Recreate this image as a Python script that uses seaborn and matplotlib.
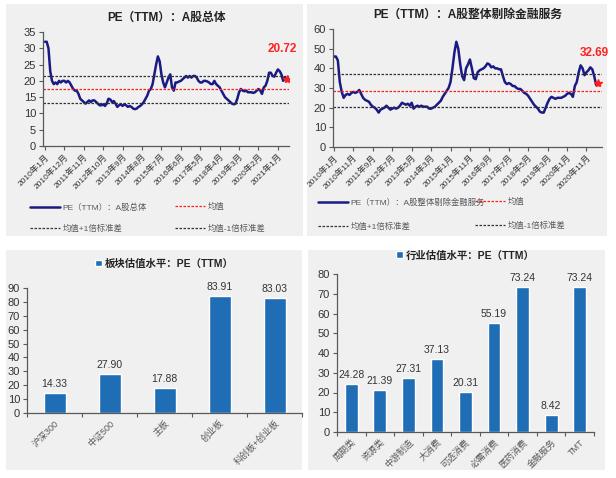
import matplotlib
matplotlib.use('Agg')
import matplotlib.pyplot as plt
from matplotlib.lines import Line2D
from matplotlib.patches import Rectangle
import numpy as np
import pandas as pd
import seaborn as sns

# ---- data: A股总体 PE(TTM), monthly from 2010-01
pe_all = [32, 32, 30, 23, 20, 19, 19.5, 19, 20, 19.5, 20, 20, 19.5, 20, 19.5, 18.5, 17.5, 17, 17, 16,
          14.5, 14, 13.5, 13, 13.5, 14, 13.5, 14, 14, 13.5, 13, 12.5, 12.5, 12.8, 12.3, 13, 14.5, 14.3, 13.5, 13.8,
          13, 12, 12.5, 12.8, 12.3, 12.8, 12.5, 12, 12.3, 12, 11.5, 11.3, 11.5, 12, 12.3, 12.8, 13.5, 14.5, 15.5, 17,
          17.5, 19, 22, 25, 27.5, 26, 22, 19.5, 18, 19.5, 21, 22, 18, 17, 19.5, 19.5, 19.8, 20, 20.5, 21,
          21.5, 21, 21.5, 21, 21.5, 21.5, 21, 20, 19.5, 19.5, 20, 20, 19.8, 19.5, 19, 19, 20, 19, 18.5, 18,
          17, 16, 15, 14.5, 14, 13.5, 13, 12.8, 13, 14.5, 16.5, 17.5, 17, 16.8, 17, 16.5, 16.5, 16.5, 16.3, 16.5,
          17, 17.5, 17, 16, 18, 18.5, 20, 22.5, 22.5, 21.5, 21.3, 22.5, 23.5, 23, 22, 20, 21, 20.72]
all_mean, all_up, all_dn = 17.4, 21.4, 13.1
all_ticks = [0, 11, 22, 33, 44, 55, 66, 77, 88, 99, 110, 121, 132]
all_ticklabels = ['2010年1月', '2010年12月', '2011年11月', '2012年10月', '2013年9月', '2014年8月',
                  '2015年7月', '2016年6月', '2017年5月', '2018年4月', '2019年3月', '2020年2月', '2021年1月']

# ---- data: A股整体剔除金融服务 PE(TTM), monthly from 2010-01
pe_nonfin = [46, 46, 44, 33, 28, 25, 26.5, 27, 26.5, 27.5, 28, 27.5, 28, 29, 27, 25, 24, 23.5, 23, 21.5,
             20.5, 20, 19, 17.5, 19, 19.5, 20, 21, 20, 19, 19.5, 20, 19.5, 20, 21, 22.5, 22, 21.5, 22, 21,
             22.5, 19.5, 20.5, 21, 20.5, 21, 20.5, 20.5, 20.5, 19.5, 19.5, 20, 20.5, 21.5, 22.5, 23.5, 25.5, 27, 28.5, 30,
             33, 40, 48, 53.5, 50, 42, 36, 34, 40, 42, 44.5, 40, 35, 34.5, 38, 39, 39.5, 40, 41, 42.5,
             42, 40.5, 41, 40, 40, 39.5, 39.5, 36, 33, 32, 32.5, 32, 31, 31, 30, 29.5, 29.5, 28.5, 27.5, 27,
             26, 24.5, 23, 21.5, 20.5, 19.5, 18, 17.5, 17.5, 20, 22.5, 24.5, 25.5, 25, 24.5, 25, 25, 25, 25.5, 26,
             27, 27.5, 27, 25.5, 31, 33, 38, 41.5, 40, 36.5, 38, 39, 40.5, 39.5, 36, 31.5, 32.69]
nf_mean, nf_up, nf_dn = 28.6, 37.2, 20.2
nf_ticks = [0, 10, 20, 30, 40, 50, 60, 70, 80, 90, 100, 110, 120, 130]
nf_ticklabels = ['2010年1月', '2010年11月', '2011年9月', '2012年7月', '2013年5月', '2014年3月', '2015年1月',
                 '2015年11月', '2016年9月', '2017年7月', '2018年5月', '2019年3月', '2020年1月', '2020年11月']

# ---- data: 板块 / 行业 PE(TTM)
board_names = ['沪深300', '中证500', '主板', '创业板', '科创板+创业板']
board_pe = [14.33, 27.90, 17.88, 83.91, 83.03]
ind_names = ['周期类', '资源类', '中游制造', '大消费', '可选消费', '必需消费', '医药消费', '金融服务', 'TMT']
ind_pe = [24.28, 21.39, 27.31, 37.13, 20.31, 55.19, 73.24, 8.42, 73.24]

NAVY = '#1a1a84'
BLUE = '#1f6db4'
GRAY = '#595959'

sns.set_theme(style='white')
plt.rcParams['font.family'] = ['Liberation Sans', 'Noto Sans CJK SC', 'DejaVu Sans']
plt.rcParams['axes.unicode_minus'] = False

W, H = 616, 478
fig = plt.figure(figsize=(W / 100, H / 100), dpi=100)


def px_axes(x0, y0, x1, y1):
    return fig.add_axes([x0 / W, 1 - y1 / H, (x1 - x0) / W, (y1 - y0) / H])


def panel(x0, y0, x1, y1):
    fig.patches.append(Rectangle((x0 / W, 1 - y1 / H), (x1 - x0) / W, (y1 - y0) / H,
                                 transform=fig.transFigure, facecolor='#f0f0f0',
                                 edgecolor='none', zorder=-10))


def style_axes(ax):
    ax.set_facecolor('none')
    for s in ['top', 'right']:
        ax.spines[s].set_visible(False)
    for s in ['left', 'bottom']:
        ax.spines[s].set_color(GRAY)
        ax.spines[s].set_linewidth(0.9)
    ax.tick_params(axis='both', which='both', direction='out', color=GRAY, length=3,
                   width=0.8, labelcolor='#333333', left=True, bottom=True, pad=2)
    ax.tick_params(axis='y', labelsize=8)
    ax.set_xlabel('')
    ax.set_ylabel('')


def line_panel(ax, values, mean, up, dn, ticks, ticklabels, ylim, yticks, title, last_label, xlim):
    df = pd.DataFrame({'m': np.arange(len(values)), 'pe': values})
    sns.lineplot(data=df, x='m', y='pe', ax=ax, color=NAVY, linewidth=1.8)
    ax.axhline(mean, color='#ff2020', linestyle=(0, (2, 1.2)), linewidth=0.9)
    ax.axhline(up, color='#333333', linestyle=(0, (2, 1.2)), linewidth=0.9)
    ax.axhline(dn, color='#333333', linestyle=(0, (2, 1.2)), linewidth=0.9)
    last = len(values) - 1
    ax.plot([last], [values[-1]], marker='*', color='#ff2020', markersize=6, zorder=5)
    ax.annotate(last_label, (last, values[-1]), xytext=(-3, 17), textcoords='offset points',
                ha='center', va='bottom', color='#ff2020', fontsize=8.5, fontweight='bold')
    ax.set_xlim(*xlim)
    ax.set_ylim(*ylim)
    ax.set_yticks(yticks)
    ax.set_xticks(ticks)
    ax.set_xticklabels(ticklabels, rotation=45, ha='right', rotation_mode='anchor',
                       fontsize=6, color=GRAY)
    style_axes(ax)
    ax.tick_params(axis='y', labelsize=8)
    ax.set_title(title, fontsize=8.5, fontweight='bold', color='#222222', pad=8)


def line_legend(main_label, x_left, x_right, y_top, spacing):
    h_main = Line2D([], [], color=NAVY, linewidth=1.8)
    h_mean = Line2D([], [], color='#ff2020', linestyle=(0, (2, 1.2)), linewidth=0.9)
    h_std = Line2D([], [], color='#333333', linestyle=(0, (2, 1.2)), linewidth=0.9)
    kw = dict(loc='upper left', frameon=False, fontsize=6, handlelength=3.6,
              handletextpad=0.3, labelspacing=spacing, labelcolor=GRAY,
              bbox_transform=fig.transFigure, borderaxespad=0, borderpad=0)
    fig.legend([h_main, h_std], [main_label, '均值+1倍标准差'],
               bbox_to_anchor=(x_left / W, 1 - y_top / H), **kw)
    fig.legend([h_mean, h_std], ['均值', '均值-1倍标准差'],
               bbox_to_anchor=(x_right / W, 1 - y_top / H), **kw)


def bar_panel(ax, names, values, width, ylim, yticks, label, title_y):
    df = pd.DataFrame({'name': names, 'pe': values})
    sns.barplot(data=df, x='name', y='pe', color=BLUE, saturation=1, width=width,
                label=label, ax=ax)
    ax.bar_label(ax.containers[0], fmt='%.2f', padding=3, fontsize=7.5, color='#333333')
    ax.set_ylim(*ylim)
    ax.set_yticks(yticks)
    ax.set_xlim(-0.5, len(names) - 0.5)
    style_axes(ax)
    ax.set_xticks(np.arange(len(names)))
    ax.set_xticklabels(names, rotation=45, ha='right', rotation_mode='anchor',
                       fontsize=6.5, color=GRAY)
    ax.tick_params(axis='x', which='major', length=0, pad=4)
    ax.set_xticks(np.arange(len(names) + 1) - 0.5, minor=True)
    ax.tick_params(axis='x', which='minor', length=3, color=GRAY)
    ax.legend(loc='lower center', bbox_to_anchor=(0.5, title_y), frameon=False,
              handlelength=0.6, handleheight=0.6, handletextpad=0.3, borderaxespad=0,
              prop={'size': 7.5, 'weight': 'bold'}, labelcolor='#222222')


# background panels
panel(6, 4, 303, 236)
panel(307, 4, 607, 236)
panel(6, 250, 302, 470)
panel(308, 250, 605, 470)

ax1 = px_axes(43, 32, 289, 146)
line_panel(ax1, pe_all, all_mean, all_up, all_dn, all_ticks, all_ticklabels,
           (0, 35), np.arange(0, 36, 5), 'PE（TTM）：A股总体', '20.72', (-1.1, 138.3))
line_legend('PE（TTM）：A股总体', 30, 175, 203, 1.6)

ax2 = px_axes(333, 29, 602, 147)
line_panel(ax2, pe_nonfin, nf_mean, nf_up, nf_dn, nf_ticks, nf_ticklabels,
           (0, 60), np.arange(0, 61, 10), 'PE（TTM）：A股整体剔除金融服务', '32.69', (-0.5, 138))
line_legend('PE（TTM）：A股整体剔除金融服务', 318, 475, 198, 1.9)

ax3 = px_axes(27, 288, 302, 413)
bar_panel(ax3, board_names, board_pe, 0.4, (0, 90), np.arange(0, 91, 10),
          '板块估值水平：PE（TTM）', 1.12)

ax4 = px_axes(337, 274, 594, 432)
bar_panel(ax4, ind_names, ind_pe, 0.45, (0, 80), np.arange(0, 81, 10),
          '行业估值水平：PE（TTM）', 1.06)

fig.savefig('out.png', dpi=100, facecolor='white')
